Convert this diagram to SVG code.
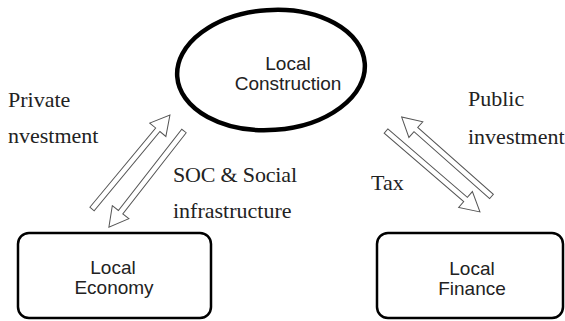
<svg xmlns="http://www.w3.org/2000/svg" width="565" height="321" viewBox="0 0 565 321">
<style>
.node{fill:#fff;stroke:#000}
.nt{font-family:"Liberation Sans",Arial,sans-serif;font-size:19px;fill:#222;text-anchor:middle}
.lbl{font-family:"Liberation Serif","Times New Roman",serif;font-size:22px;fill:#222}
.arr{fill:#fff;stroke:#555;stroke-width:1}
</style>
<rect width="565" height="321" fill="#fff"/>
<g id="construction">
<ellipse class="node" cx="271" cy="70" rx="94" ry="60" stroke-width="4.5" transform="rotate(-4 271 70)"/>
<text class="nt" x="288" y="70">Local</text>
<text class="nt" x="288" y="90">Construction</text>
</g>
<g id="economy">
<rect class="node" x="18" y="233" width="193" height="85" rx="11" stroke-width="2.5"/>
<text class="nt" x="113" y="274">Local</text>
<text class="nt" x="114" y="294">Economy</text>
</g>
<g id="finance">
<rect class="node" x="377" y="233" width="186" height="85" rx="11" stroke-width="2.5"/>
<text class="nt" x="472" y="275">Local</text>
<text class="nt" x="472" y="295">Finance</text>
</g>
<g id="connectors">
<g transform="translate(92,209) rotate(-50.3)">
<path class="arr" d="M0,-2.8 L103,-2.8 L103,-10.5 L122,0 L103,10.5 L103,2.8 L0,2.8 Z"/>
</g>
<g transform="translate(184,131) rotate(128)">
<path class="arr" d="M0,-2.8 L103,-2.8 L103,-10.5 L122,0 L103,10.5 L103,2.8 L0,2.8 Z"/>
</g>
<g transform="translate(491.5,196.5) rotate(-138.5)">
<path class="arr" d="M0,-2.8 L101,-2.8 L101,-10.5 L120,0 L101,10.5 L101,2.8 L0,2.8 Z"/>
</g>
<g transform="translate(386,131) rotate(40.75)">
<path class="arr" d="M0,-2.8 L105,-2.8 L105,-10.5 L124,0 L105,10.5 L105,2.8 L0,2.8 Z"/>
</g>
</g>
<g id="labels">
<text class="lbl" x="8" y="107">Private</text>
<text class="lbl" x="8" y="143">nvestment</text>
<text class="lbl" x="173" y="182" textLength="124">SOC &amp; Social</text>
<text class="lbl" x="173" y="218">infrastructure</text>
<text class="lbl" x="468" y="106">Public</text>
<text class="lbl" x="468" y="144">investment</text>
<text class="lbl" x="371" y="190">Tax</text>
</g>
</svg>
